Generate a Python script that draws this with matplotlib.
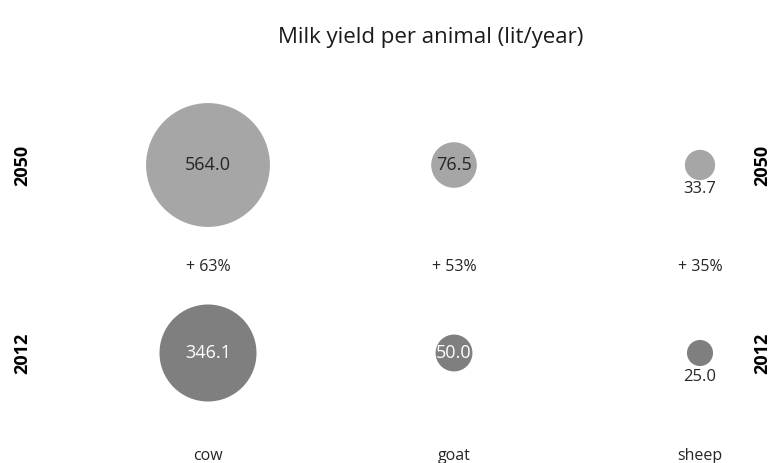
import matplotlib
matplotlib.use("Agg")
import matplotlib.pyplot as plt

animals = ["cow", "goat", "sheep"]
years = ["2012", "2050"]
yield_2012 = [346.1, 50.0, 25.0]
yield_2050 = [564.0, 76.5, 33.7]
changes = ["+ 63%", "+ 53%", "+ 35%"]

plt.rcParams['font.family'] = ['Open Sans', 'DejaVu Sans']

fig = plt.figure(figsize=(7.79, 4.63), dpi=100)
ax = fig.add_axes([0, 0, 1, 1])
ax.set_xlim(-208/246, (779-208)/246)
ax.set_ylim((353-463)/188, 353/188)
ax.axis("off")

scale = 14.1
xs = list(range(len(animals)))
ax.scatter(xs, [1]*3, s=[v*scale for v in yield_2050], color="#a6a6a6", edgecolors="none")
ax.scatter(xs, [0]*3, s=[v*scale for v in yield_2012], color="#7f7f7f", edgecolors="none")

fs_in = 13
fs_out = 12
fs = 11.5
for i, v in enumerate(yield_2050):
    if i < 2:
        ax.text(i, 1, f"{v:.1f}", ha="center", va="center", fontsize=fs_in, color="#262626")
    else:
        ax.text(i, 1 - 0.13, f"{v:.1f}", ha="center", va="center", fontsize=fs_out, color="#262626")
for i, v in enumerate(yield_2012):
    if i < 2:
        ax.text(i, 0, f"{v:.1f}", ha="center", va="center", fontsize=fs_in, color="white")
    else:
        ax.text(i, 0 - 0.13, f"{v:.1f}", ha="center", va="center", fontsize=fs_out, color="#262626")

for i, c in enumerate(changes):
    ax.text(i, 0.455, c, ha="center", va="center", fontsize=fs, color="#262626")

for i, a in enumerate(animals):
    ax.text(i, -0.55, a, ha="center", va="center", fontsize=fs, color="#262626")

for yv, lab in [(1, years[1]), (0, years[0])]:
    ax.text(-0.755, yv, lab, ha="center", va="center", rotation=90, fontsize=13, fontweight="bold", color="black")
    ax.text(2.255, yv, lab, ha="center", va="center", rotation=90, fontsize=13, fontweight="bold", color="black")

fig.text(0.553, 1 - 38/463, "Milk yield per animal (lit/year)", ha="center", va="center", fontsize=16, color="#1a1a1a")

fig.savefig("out.png", dpi=100)
